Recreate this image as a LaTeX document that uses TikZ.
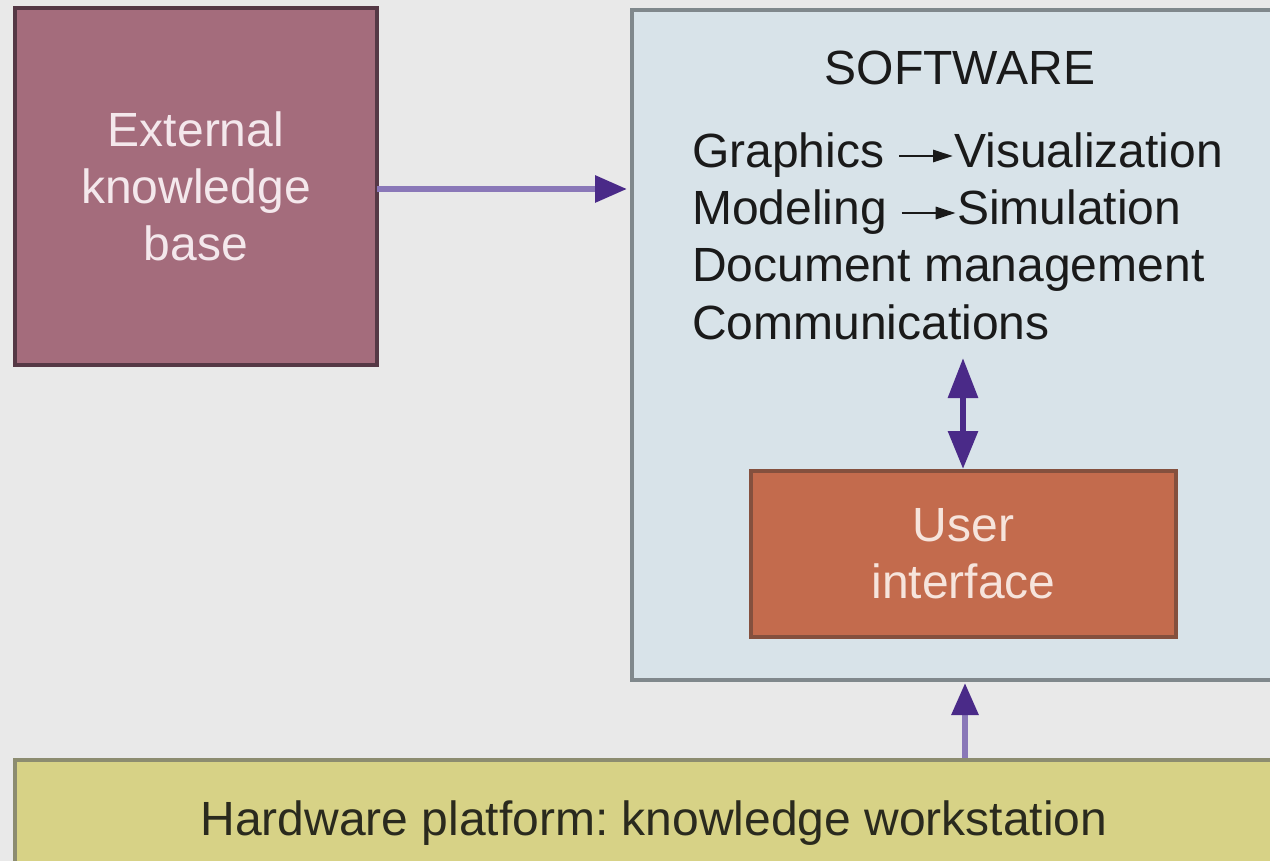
\documentclass[tikz,border=0pt]{standalone}
\usepackage{fontspec}
\setmainfont{Liberation Sans}
\usetikzlibrary{arrows.meta}
\frenchspacing

\definecolor{bgc}{HTML}{E9E9E9}
\definecolor{extfill}{HTML}{A46C7C}
\definecolor{extline}{HTML}{553845}
\definecolor{extText}{HTML}{F4E8EC}
\definecolor{swfill}{HTML}{D8E3E9}
\definecolor{swline}{HTML}{80888C}
\definecolor{uifill}{HTML}{C36B4D}
\definecolor{uiline}{HTML}{84503E}
\definecolor{uiText}{HTML}{F6E4DC}
\definecolor{hwfill}{HTML}{D7D286}
\definecolor{hwline}{HTML}{8C8C70}
\definecolor{hwText}{HTML}{2A2A1E}
\definecolor{shaft}{HTML}{8A78B8}
\definecolor{tipc}{HTML}{4A2A88}
\definecolor{ink}{HTML}{1A1A1A}

% small inline arrow used inside the software list
\newcommand{\flowarrow}{\tikz[baseline={(0pt,-12pt)}]\draw[ink,line width=2.8pt,-{Triangle[length=20pt,width=12pt]}] (0pt,0pt)--(54pt,0pt);}

\tikzset{
  txt/.style={font=\fontsize{48}{57}\selectfont, inner sep=0pt},
  flow/.style={shaft, line width=6pt, -{Triangle[length=32pt,width=26pt,color=tipc]}},
  both/.style={tipc, line width=6pt, {Triangle[length=40pt,width=29pt]}-{Triangle[length=38pt,width=29pt]}}
}

\begin{document}
\begin{tikzpicture}[x=1pt,y=-1pt]
  \useasboundingbox (0,0) rectangle (1270,861);
  \clip (0,0) rectangle (1270,861);
  \fill[bgc] (0,0) rectangle (1270,861);

  % boxes
  \draw[fill=extfill, draw=extline, line width=4pt] (15,8) rectangle (377,365);
  \node[txt, text=extText, align=center] (ext) at (196,186.5) {External\\knowledge\\base};
  \coordinate (extE) at (377,189);

  \draw[fill=swfill, draw=swline, line width=4pt] (632,10) rectangle (1290,680);
  \coordinate (swW) at (632,189);
  \coordinate (swS) at (965,682);

  \draw[fill=uifill, draw=uiline, line width=4pt] (751,471) rectangle (1176,637);
  \node[txt, text=uiText, align=center] (ui) at (963.5,554) {User\\interface};
  \coordinate (uiN) at (963,469);

  \draw[fill=hwfill, draw=hwline, line width=4pt] (15,760) rectangle (1290,880);
  \coordinate (hwN) at (965,758);

  % software contents
  \node[txt, text=ink, anchor=base] (swtitle) at (960,85) {SOFTWARE};
  \node[txt, text=ink, anchor=base west] (l1) at (692,168) {Graphics \flowarrow{}Visualization};
  \node[txt, text=ink, anchor=base west] (l2) at (692,225) {Modeling \flowarrow{}Simulation};
  \node[txt, text=ink, anchor=base west] (l3) at (692,282) {Document management};
  \node[txt, text=ink, anchor=base west] (l4) at (692,339) {Communications};
  \coordinate (listend) at (963,358);

  \node[txt, text=hwText, anchor=base] (hw) at (654,835) {Hardware platform: knowledge workstation};

  % connectors
  \draw[flow, shorten >=5pt] (extE) -- (swW);
  \draw[both] (listend) -- (uiN);
  \draw[flow, shorten >=1pt] (hwN) -- (swS);
\end{tikzpicture}
\end{document}
